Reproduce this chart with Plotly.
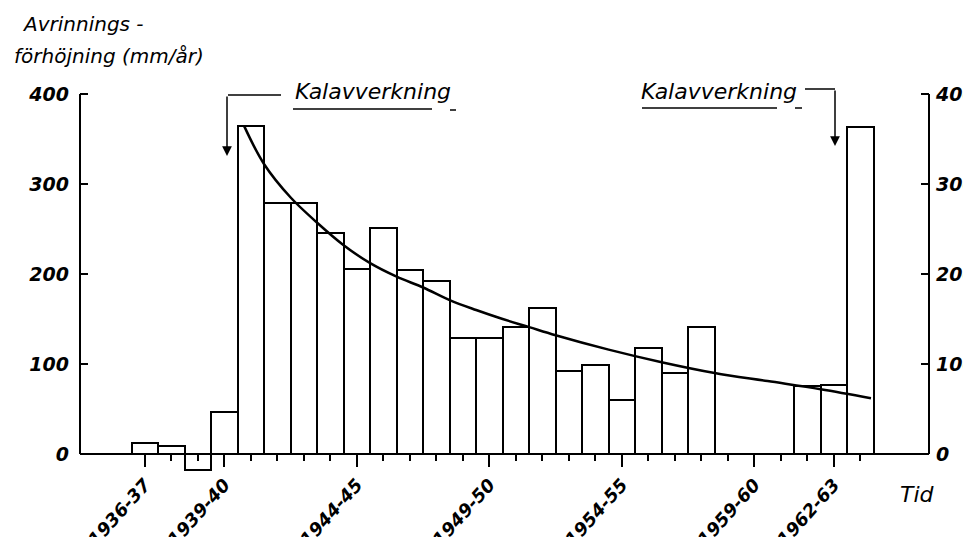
import plotly.graph_objects as go

# ---------------- data ----------------
years = ["1936-37", "1937-38", "1938-39", "1939-40", "1940-41", "1941-42", "1942-43",
         "1943-44", "1944-45", "1945-46", "1946-47", "1947-48", "1948-49", "1949-50",
         "1950-51", "1951-52", "1952-53", "1953-54", "1954-55", "1955-56", "1956-57",
         "1957-58", "1958-59", "1959-60", "1960-61", "1961-62", "1962-63", "1963-64"]
runoff_increase = [12, 9, -18, 47, 364, 279, 279, 246, 206, 251, 205, 192, 129, 129,
                   141, 162, 92, 99, 60, 118, 90, 141, None, None, None, 76, 77, 363]

trend_x = [1939.75, 1940.5, 1941.5, 1942.5, 1943.5, 1944.5, 1945.5, 1946.5, 1947.5,
           1948.5, 1949.5, 1950.5, 1951.5, 1953.5, 1955.5, 1957.5, 1959.5, 1961.5, 1963.4]
trend_y = [364, 322, 285, 257, 232, 212, 197, 185, 171, 160, 150, 141, 132, 116, 102,
           90, 81, 72, 62]

tick_labels = ["1936-37", "1939-40", "1944-45", "1949-50", "1954-55", "1959-60", "1962-63"]
y_ticks = [0, 100, 200, 300, 400]
y_title_lines = ["Avrinnings -", "förhöjning (mm/år)"]
x_title = "Tid"
event_label = "Kalavverkning"

x_pos = [int(s[:4]) for s in years]
tick_pos = [int(s[:4]) for s in tick_labels]

# ---------------- layout geometry ----------------
PAGE_OFF = 8                    # default body margin of the html page
W, H = 971 - PAGE_OFF, 537 - PAGE_OFF
PLOT_L, PLOT_R, PLOT_T, PLOT_B = 80, 929, 76, 490   # page pixels of the plot area
ML, MR = PLOT_L - PAGE_OFF, W - (PLOT_R - PAGE_OFF)
MT, MB = PLOT_T - PAGE_OFF, H - (PLOT_B - PAGE_OFF)
Y_RANGE = [-40, 420]
X_RANGE = [1933.55, 1965.59]
FONT = "DejaVu Sans"


def fx(px):
    return (px - PLOT_L) / (PLOT_R - PLOT_L)


def fy(py):
    return (PLOT_B - py) / (PLOT_B - PLOT_T)


num_font = dict(family=FONT, size=19, color="black", style="italic", weight="bold")
txt_font = dict(family=FONT, size=22, color="black", style="italic")

fig = go.Figure()
fig.add_bar(x=x_pos, y=runoff_increase, width=1,
            marker=dict(color="white", line=dict(color="black", width=2)),
            showlegend=False, hoverinfo="skip")
fig.add_scatter(x=trend_x, y=trend_y, mode="lines",
                line=dict(color="black", width=2.5, shape="spline", smoothing=1),
                showlegend=False, hoverinfo="skip")
fig.add_scatter(x=[None], y=[None], yaxis="y2", showlegend=False, hoverinfo="skip")

fig.update_layout(
    width=W, height=H,
    margin=dict(l=ML, r=MR, t=MT, b=MB, autoexpand=False),
    paper_bgcolor="white", plot_bgcolor="white",
    font=dict(family=FONT, color="black"),
    bargap=0,
    xaxis=dict(
        range=X_RANGE, anchor="free", position=(0 - Y_RANGE[0]) / (Y_RANGE[1] - Y_RANGE[0]),
        showline=True, linecolor="black", linewidth=2,
        ticks="outside", ticklen=12, tickwidth=2, tickcolor="black",
        tickmode="array", tickvals=tick_pos, ticktext=tick_labels, tickangle=-48,
        tickfont=dict(family=FONT, size=18, color="black", style="italic", weight="bold"),
        showgrid=False, zeroline=False, automargin=False,
        minor=dict(tickmode="array", tickvals=x_pos, ticks="outside", ticklen=6,
                   tickwidth=1.5, tickcolor="black", showgrid=False),
    ),
    yaxis=dict(
        range=Y_RANGE, tickmode="array", tickvals=y_ticks,
        ticks="inside", ticklen=8, tickwidth=2, tickcolor="black",
        showline=False, showgrid=False, zeroline=False, automargin=False,
        tickfont=num_font, ticklabelstandoff=10,
    ),
    yaxis2=dict(
        range=Y_RANGE, overlaying="y", side="right", anchor="x",
        tickmode="array", tickvals=y_ticks,
        ticks="inside", ticklen=8, tickwidth=2, tickcolor="black",
        showline=False, showgrid=False, zeroline=False, automargin=False,
        tickfont=num_font, ticklabelstandoff=6,
    ),
)

# vertical axis lines (0..400 only)
for xp in (0, 1):
    fig.add_shape(type="line", xref="paper", yref="y", x0=xp, x1=xp, y0=0, y1=400,
                  line=dict(color="black", width=2))


def hline(x0, x1, y, w=1.5):
    fig.add_shape(type="line", xref="paper", yref="paper", x0=fx(x0), x1=fx(x1),
                  y0=fy(y), y1=fy(y), line=dict(color="black", width=w))


# left event label
fig.add_annotation(text=event_label, xref="paper", yref="paper", x=fx(373), y=fy(91),
                   showarrow=False, font=txt_font, xanchor="center", yanchor="middle")
hline(293, 432, 109)
hline(450, 456, 110)
hline(228, 281, 95)
fig.add_annotation(text="", xref="paper", yref="paper", x=fx(227), y=fy(156),
                   ax=0, ay=-61, showarrow=True, arrowhead=2, arrowsize=1.3,
                   arrowwidth=1.5, arrowcolor="black")

# right event label
fig.add_annotation(text=event_label, xref="paper", yref="paper", x=fx(719), y=fy(92),
                   showarrow=False, font=txt_font, xanchor="center", yanchor="middle")
hline(642, 777, 108)
hline(795, 802, 108)
hline(805, 835, 89)
fig.add_annotation(text="", xref="paper", yref="paper", x=fx(835), y=fy(146),
                   ax=0, ay=-57, showarrow=True, arrowhead=2, arrowsize=1.3,
                   arrowwidth=1.5, arrowcolor="black")

# axis titles
fig.add_annotation(text=y_title_lines[0], xref="paper", yref="paper", x=fx(20), y=fy(24),
                   showarrow=False, xanchor="left", yanchor="middle",
                   font=dict(family=FONT, size=20, color="black", style="italic"))
fig.add_annotation(text=y_title_lines[1], xref="paper", yref="paper", x=fx(12), y=fy(56),
                   showarrow=False, xanchor="left", yanchor="middle",
                   font=dict(family=FONT, size=20, color="black", style="italic"))
fig.add_annotation(text=x_title, xref="paper", yref="paper", x=fx(917), y=fy(494),
                   showarrow=False, xanchor="center", yanchor="middle",
                   font=dict(family=FONT, size=22, color="black", style="italic"))

fig.write_html("out.html")
